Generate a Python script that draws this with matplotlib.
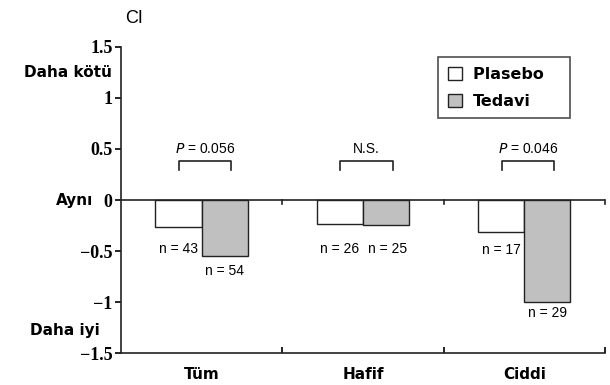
import matplotlib
matplotlib.use("Agg")
import matplotlib.pyplot as plt
import numpy as np

categories = ["Tüm", "Hafif", "Ciddi"]
plasebo = [-0.265, -0.235, -0.315]
tedavi = [-0.55, -0.245, -1.0]
n_plasebo = ["n = 43", "n = 26", "n = 17"]
n_tedavi = ["n = 54", "n = 25", "n = 29"]
p_labels = ["P = 0.056", "N.S.", "P = 0.046"]
series_names = ["Plasebo", "Tedavi"]
yticks = [-1.5, -1, -0.5, 0, 0.5, 1, 1.5]
ytick_labels = ["\u22121.5", "\u22121", "\u22120.5", "0", "0.5", "1", "1.5"]

fig = plt.figure(figsize=(6.1, 3.85), dpi=100)
ax = fig.add_axes([0.198, 0.083, 0.794, 0.795])

x = np.arange(len(categories))
w = 0.285
ax.bar(x - w / 2, plasebo, w, color="white", edgecolor="#222222", linewidth=1.0,
       label=series_names[0] + "   ")
ax.bar(x + w / 2, tedavi, w, color="#c0c0c0", edgecolor="#222222", linewidth=1.0,
       label=series_names[1])

ax.set_xlim(-0.5, 2.5)
ax.set_ylim(-1.5, 1.5)
ax.axhline(0, color="#222222", linewidth=1.2)
for b in [0.5, 1.5, 2.5]:
    ax.plot([b, b], [0, -0.035], color="#222222", linewidth=1.2, clip_on=False)

ax.spines["top"].set_visible(False)
ax.spines["right"].set_visible(False)
for s in ["left", "bottom"]:
    ax.spines[s].set_linewidth(1.2)
    ax.spines[s].set_color("#222222")

ax.set_yticks(yticks)
ax.set_yticklabels(ytick_labels, fontfamily="Liberation Serif", fontweight="bold", fontsize=13)
ax.tick_params(axis="y", direction="out", length=4, width=1.2, pad=2)
ax.set_xticks([0.5, 1.5, 2.5], minor=True)
ax.set_xticks(x)
ax.set_xticklabels(categories, fontfamily="DejaVu Sans", fontweight="bold", fontsize=11)
ax.tick_params(axis="x", which="major", length=0, pad=10)
ax.tick_params(axis="x", which="minor", direction="in", length=4, width=1.2)

# side labels
tr = ax.get_yaxis_transform()
ax.text(-0.018, 1.245, "Daha kötü", transform=tr, ha="right", va="center",
        fontfamily="DejaVu Sans", fontweight="bold", fontsize=11)
ax.text(-0.058, 0, "Aynı", transform=tr, ha="right", va="center",
        fontfamily="DejaVu Sans", fontweight="bold", fontsize=11)
ax.text(-0.043, -1.28, "Daha iyi", transform=tr, ha="right", va="center",
        fontfamily="DejaVu Sans", fontweight="bold", fontsize=11)
fig.text(0.205, 0.952, "CI", ha="left", va="center", fontfamily="Liberation Sans", fontsize=13)

# n labels
nfont = dict(fontfamily="Liberation Sans", fontsize=10)
ax.text(x[0] - 0.02, -0.48, n_plasebo[0], ha="right", va="center", **nfont)
ax.text(x[0] + w / 2, -0.70, n_tedavi[0], ha="center", va="center", **nfont)
ax.text(x[1] - w / 2, -0.48, n_plasebo[1], ha="center", va="center", **nfont)
ax.text(x[1] + w / 2 + 0.01, -0.48, n_tedavi[1], ha="center", va="center", **nfont)
ax.text(x[2] - 0.02, -0.49, n_plasebo[2], ha="right", va="center", **nfont)
ax.text(x[2] + w / 2, -1.11, n_tedavi[2], ha="center", va="center", **nfont)

# brackets
for i, lab in enumerate(p_labels):
    xl, xr = x[i] - 0.14, x[i] + 0.185
    ax.plot([xl, xl, xr, xr], [0.29, 0.38, 0.38, 0.29], color="#222222", linewidth=1.2)
    cx = (xl + xr) / 2
    if lab.startswith("P"):
        ax.text(cx, 0.50, r"$\it{P}$" + lab[1:], ha="center", va="center", **nfont)
    else:
        ax.text(cx, 0.50, lab, ha="center", va="center", **nfont)

leg = ax.legend(loc="upper left", bbox_to_anchor=(0.655, 0.967), frameon=True, fancybox=False,
                edgecolor="#222222", prop=dict(family="DejaVu Sans", weight="bold", size=11.5),
                handlelength=0.9, handleheight=0.9, borderpad=0.6, labelspacing=0.75,
                handletextpad=0.7, borderaxespad=0)
leg.get_frame().set_linewidth(1.2)

fig.savefig("out.png", dpi=100)
